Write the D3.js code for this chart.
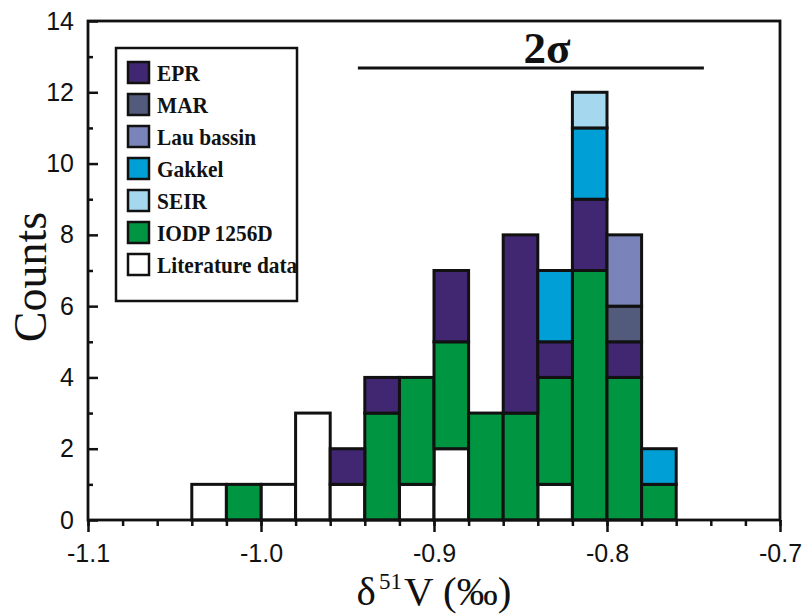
<!DOCTYPE html>
<html>
<head>
<meta charset="utf-8">
<script src="https://cdn.jsdelivr.net/npm/d3@7"></script>
<style>
  body { margin: 0; background: #fff; }
  svg { display: block; }
</style>
</head>
<body>
<div class="wrapper"></div>
<script>
// bin left edges (bin width 0.02)
const bins = [-1.04, -1.02, -1.00, -0.98, -0.96, -0.94, -0.92, -0.90, -0.88, -0.86, -0.84, -0.82, -0.80, -0.78];
const binWidth = 0.02;

// series, in stacking order (bottom to top)
const seriesNames = ["Literature data", "IODP 1256D", "EPR", "MAR", "Lau bassin", "Gakkel", "SEIR"];
const literature = [1, 0, 1, 3, 1, 0, 1, 2, 0, 0, 1, 0, 0, 0];
const iodp       = [0, 1, 0, 0, 0, 3, 3, 3, 3, 3, 3, 7, 4, 1];
const epr        = [0, 0, 0, 0, 1, 1, 0, 2, 0, 5, 1, 2, 1, 0];
const mar        = [0, 0, 0, 0, 0, 0, 0, 0, 0, 0, 0, 0, 1, 0];
const lau        = [0, 0, 0, 0, 0, 0, 0, 0, 0, 0, 0, 0, 2, 0];
const gakkel     = [0, 0, 0, 0, 0, 0, 0, 0, 0, 0, 2, 2, 0, 1];
const seir       = [0, 0, 0, 0, 0, 0, 0, 0, 0, 0, 0, 1, 0, 0];
const seriesValues = [literature, iodp, epr, mar, lau, gakkel, seir];

const colors = {
    "EPR": "#412671",
    "MAR": "#535b7c",
    "Lau bassin": "#7b84ba",
    "Gakkel": "#009fd6",
    "SEIR": "#a5d7ee",
    "IODP 1256D": "#009540",
    "Literature data": "#ffffff"
};
const legendOrder = ["EPR", "MAR", "Lau bassin", "Gakkel", "SEIR", "IODP 1256D", "Literature data"];

const xTicks = [-1.1, -1.0, -0.9, -0.8, -0.7];
const yTicks = [0, 2, 4, 6, 8, 10, 12, 14];
const sigmaRange = [-0.944, -0.744];

const W = 804, H = 614;
const margin = {top: 21, right: 24, bottom: 94, left: 88};

const svg = d3.select(".wrapper").append("svg")
    .attr("width", W)
    .attr("height", H);

const x = d3.scaleLinear().domain([-1.1, -0.7]).range([margin.left, W - margin.right]);
const y = d3.scaleLinear().domain([0, 14]).range([H - margin.bottom, margin.top]);

// build table for d3.stack
const table = bins.map((b, i) => {
    const row = {bin: b};
    seriesNames.forEach((s, k) => row[s] = seriesValues[k][i]);
    return row;
});
const stacked = d3.stack().keys(seriesNames)(table);

// ### BARS
const layer = svg.selectAll("g.layer")
    .data(stacked)
    .enter().append("g")
    .attr("class", "layer")
    .attr("fill", d => colors[d.key]);

layer.selectAll("rect")
    .data(d => d.filter(p => p[1] > p[0]))
    .enter().append("rect")
    .attr("x", d => x(d.data.bin))
    .attr("width", d => x(d.data.bin + binWidth) - x(d.data.bin))
    .attr("y", d => y(d[1]))
    .attr("height", d => y(d[0]) - y(d[1]))
    .attr("stroke", "#111")
    .attr("stroke-width", 3);

// ### AXES
const fmt = d => d3.format(".1f")(d).replace("−", "-");

const xAxis = d3.axisBottom(x)
    .tickValues(xTicks)
    .tickFormat(fmt)
    .tickSize(12)
    .tickPadding(6);
const xMinor = d3.axisBottom(x)
    .tickValues(d3.range(-1.1, -0.699, 0.02))
    .tickFormat("")
    .tickSize(6);

const yAxis = d3.axisLeft(y)
    .tickValues(yTicks)
    .tickSize(-10)
    .tickPadding(14);
const yMinor = d3.axisLeft(y)
    .tickValues(d3.range(1, 14, 2))
    .tickFormat("")
    .tickSize(-5);

const gx = svg.append("g")
    .attr("transform", "translate(0," + (H - margin.bottom) + ")");
gx.call(xMinor);
gx.append("g").call(xAxis);

const gy = svg.append("g")
    .attr("transform", "translate(" + margin.left + ",0)");
gy.call(yMinor);
gy.append("g").call(yAxis);

svg.selectAll(".domain").remove();
svg.selectAll(".tick line").attr("stroke", "#111").attr("stroke-width", 2.5);
svg.selectAll(".tick text")
    .style("font-family", "Liberation Sans, Arial, sans-serif")
    .style("font-size", "25px")
    .attr("fill", "#111");
gx.selectAll(".tick text").attr("y", 42).attr("dy", 0);

// frame
svg.append("rect")
    .attr("x", margin.left)
    .attr("y", margin.top)
    .attr("width", W - margin.left - margin.right)
    .attr("height", H - margin.top - margin.bottom)
    .attr("fill", "none")
    .attr("stroke", "#111")
    .attr("stroke-width", 2.8);

// axis titles
svg.append("text")
    .attr("transform", "translate(46,277) rotate(-90)")
    .attr("text-anchor", "middle")
    .style("font-family", "Liberation Serif, Times New Roman, serif")
    .style("font-size", "46px")
    .attr("fill", "#111")
    .text("Counts");

const xt = svg.append("text")
    .attr("x", 434)
    .attr("y", 605)
    .attr("text-anchor", "middle")
    .style("font-family", "Liberation Serif, Times New Roman, serif")
    .style("font-size", "41px")
    .attr("fill", "#111");
xt.append("tspan").text("δ");
xt.append("tspan").attr("dx", 3).attr("dy", -16).style("font-size", "23px").text("51");
xt.append("tspan").attr("dx", 2).attr("dy", 16).text("V (‰)");

// 2 sigma bar
svg.append("line")
    .attr("x1", x(sigmaRange[0]))
    .attr("x2", x(sigmaRange[1]))
    .attr("y1", 68)
    .attr("y2", 68)
    .attr("stroke", "#111")
    .attr("stroke-width", 3);
svg.append("text")
    .attr("x", 547)
    .attr("y", 63)
    .attr("text-anchor", "middle")
    .style("font-family", "Liberation Serif, Times New Roman, serif")
    .style("font-size", "45px")
    .style("font-weight", "bold")
    .attr("fill", "#111")
    .text("2σ");

// ### LEGEND
const legend = svg.append("g").attr("transform", "translate(116,48)");
legend.append("rect")
    .attr("width", 181)
    .attr("height", 253)
    .attr("fill", "#fff")
    .attr("stroke", "#111")
    .attr("stroke-width", 2.5);

const item = legend.selectAll("g.item")
    .data(legendOrder)
    .enter().append("g")
    .attr("class", "item")
    .attr("transform", (d, i) => "translate(12," + (14 + i * 32) + ")");

item.append("rect")
    .attr("width", 21)
    .attr("height", 21)
    .attr("fill", d => colors[d])
    .attr("stroke", "#111")
    .attr("stroke-width", 2.5);

item.append("text")
    .attr("transform", "translate(29,19) scale(0.93,1)")
    .style("font-family", "Liberation Serif, Times New Roman, serif")
    .style("font-size", "23px")
    .style("font-weight", "bold")
    .attr("fill", "#111")
    .text(d => d);
</script>
</body>
</html>
